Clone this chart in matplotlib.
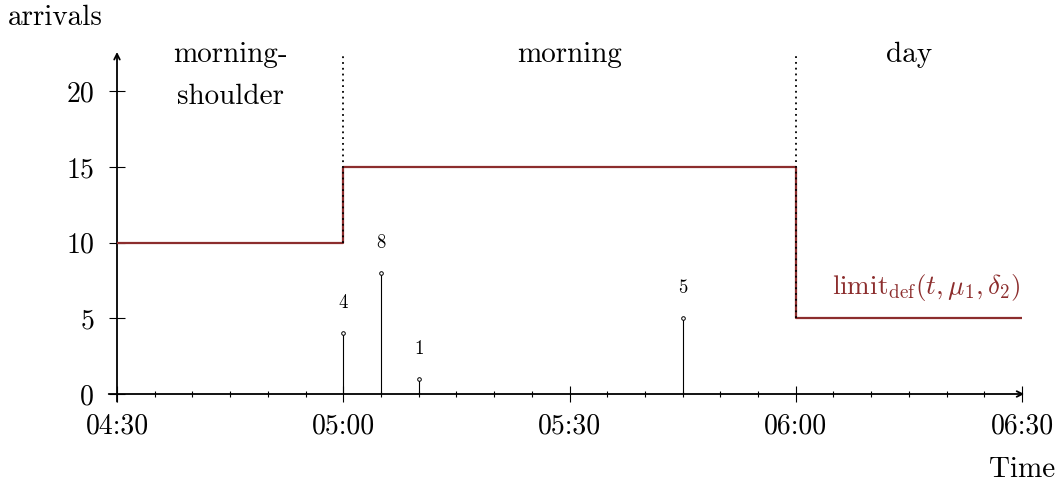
import matplotlib
matplotlib.use("Agg")
import matplotlib.pyplot as plt

plt.rcParams['font.family'] = 'serif'
plt.rcParams['font.serif'] = ['cmr10']
plt.rcParams['mathtext.fontset'] = 'cm'
plt.rcParams['axes.formatter.use_mathtext'] = True

# data (minutes after 04:30)
limit_x = [0, 30, 90, 120]
limit_y = [10, 15, 5, 5]
arr_t = [30, 35, 40, 75]
arr_n = [4, 8, 1, 5]
boundaries = [30, 90]
periods = ["morning-", "shoulder", "morning", "day"]
period_x = [15, 15, 60, 105]
xticks = [0, 30, 60, 90, 120]
xticklabels = ["04:30", "05:00", "05:30", "06:00", "06:30"]
yticks = [0, 5, 10, 15, 20]

RED = '#8c2d2d'
W, H = 1062, 487
fig = plt.figure(figsize=(W / 100, H / 100), dpi=100)
ax = fig.add_axes([117 / W, (H - 394) / H, (1022 - 117) / W, (394 - 55) / H])
ax.set_xlim(0, 120)
ax.set_ylim(0, 22.4)
for s in ax.spines.values():
    s.set_visible(False)

def py(px):
    return (394 - px) / 15.134

# axes arrows
ax.annotate('', xy=(120.3, 0), xytext=(-1.1, 0),
            arrowprops=dict(arrowstyle='->', lw=1.3, color='black', shrinkA=0, shrinkB=0),
            annotation_clip=False)
ax.annotate('', xy=(0, 22.6), xytext=(0, -0.5),
            arrowprops=dict(arrowstyle='->', lw=1.3, color='black', shrinkA=0, shrinkB=0),
            annotation_clip=False)

ax.set_xticks(xticks)
ax.set_xticklabels(xticklabels, fontsize=20)
ax.set_xticks(range(0, 121, 5), minor=True)
ax.set_yticks(yticks)
ax.set_yticklabels([str(v) for v in yticks], fontsize=20)
ax.tick_params(axis='x', which='major', direction='inout', length=11, width=0.8, pad=8)
ax.tick_params(axis='x', which='minor', direction='inout', length=4.5, width=0.8)
ax.tick_params(axis='y', which='major', direction='inout', length=11, width=0.8, pad=11)

# step limit line
ax.step(limit_x, limit_y, where='post', color=RED, lw=1.6, zorder=3)

# boundaries (dotted, from the lower limit level up to the top)
for b in boundaries:
    i = limit_x.index(b)
    low = min(limit_y[i - 1], limit_y[i])
    ax.plot([b, b], [low, 22.4], color='black', lw=1.3, ls=(0, (1, 2.2)), zorder=4, clip_on=False)

# stems
for t, n in zip(arr_t, arr_n):
    ax.plot([t, t], [0, n], color='black', lw=0.8, zorder=5)
    ax.plot([t], [n], marker='o', ms=2.6, mfc='white', mec='black', mew=0.7, zorder=6)
    ax.text(t, n + 2, str(n), ha='center', va='center', fontsize=13.5)

# period labels
ax.text(period_x[0], py(62), periods[0], ha='center', va='baseline', fontsize=21)
ax.text(period_x[1], py(104), periods[1], ha='center', va='baseline', fontsize=21)
ax.text(period_x[2], py(62), periods[2], ha='center', va='baseline', fontsize=21)
ax.text(period_x[3], py(62), periods[3], ha='center', va='baseline', fontsize=21)

ax.text(119.8, py(287), r'$\mathrm{limit}_{\mathrm{def}}(t,\mu_1,\delta_2)$', color=RED,
        ha='right', va='center', fontsize=19.5)

fig.text(55 / W, 1 - 18 / H, 'arrivals', ha='center', va='center', fontsize=21)
fig.text(1055 / W, 1 - 470 / H, 'Time', ha='right', va='center', fontsize=21)

fig.savefig('out.png', dpi=100)
